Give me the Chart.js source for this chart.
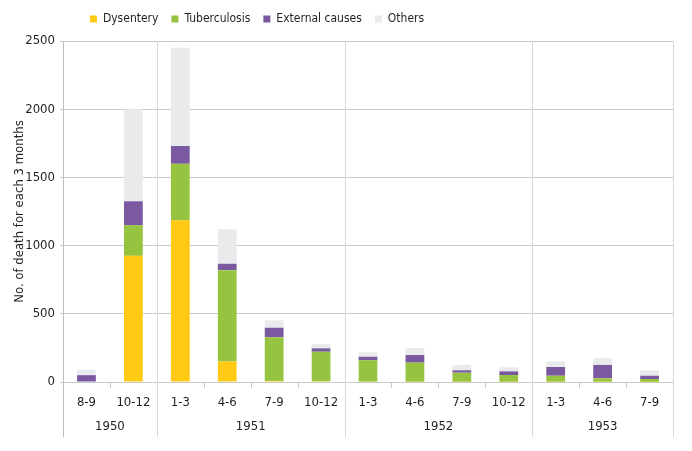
<!DOCTYPE html>
<html>
<head>
<meta charset="utf-8">
<script src="https://cdn.jsdelivr.net/npm/chart.js@4/dist/chart.umd.min.js"></script>
<style>
  html, body { margin: 0; padding: 0; background: #fff; }
  #wrap { width: 692px; height: 451px; }
</style>
</head>
<body>
<div id="wrap"><canvas id="grafico"></canvas></div>
<script>
// categorias (trimestres) e anos
const categorias = ['8-9', '10-12', '1-3', '4-6', '7-9', '10-12', '1-3', '4-6', '7-9', '10-12', '1-3', '4-6', '7-9'];
const anos       = ['1950', '1951', '1952', '1953'];
const anoSpans   = [2, 4, 4, 3];

// séries (nº de mortes por trimestre)
const disenteria  = [0, 925, 1185, 150, 8, 6, 3, 2, 2, 2, 2, 2, 1];
const tuberculose = [0, 225, 415, 670, 320, 216, 157, 140, 66, 49, 44, 25, 21];
const externas    = [50, 175, 130, 47, 70, 25, 25, 56, 18, 27, 64, 98, 24];
const outros      = [40, 675, 720, 253, 55, 30, 32, 50, 39, 30, 42, 49, 40];

const yTicks = [0, 500, 1000, 1500, 2000, 2500];

const FONTE = "'Liberation Sans Narrow', 'DejaVu Sans Condensed', 'Roboto', sans-serif";
const COR_TEXTO = '#231f20';
const COR_GRADE = '#c9c9c9';
const COR_ANO   = '#d9d9d9';

// linhas de separação dos anos, traços das categorias e rótulos dos anos
const eixoAnos = {
    id: 'eixoAnos',
    afterDraw(chart) {
        const { ctx, chartArea } = chart;
        const x = chart.scales.x;
        const n = categorias.length;
        const passo = (x.getPixelForValue(1) - x.getPixelForValue(0));
        const borda = i => x.getPixelForValue(0) - passo / 2 + i * passo;
        const fundo = 437;

        ctx.save();
        // traços curtos entre categorias
        ctx.strokeStyle = COR_GRADE;
        ctx.lineWidth = 1;
        for (let i = 1; i < n; i++) {
            const px = Math.round(borda(i)) + 0.5;
            ctx.beginPath();
            ctx.moveTo(px, chartArea.bottom);
            ctx.lineTo(px, chartArea.bottom + 6);
            ctx.stroke();
        }
        // linhas dos anos
        let idx = 0;
        const limites = [0];
        anoSpans.forEach(s => { idx += s; limites.push(idx); });
        limites.forEach((b, k) => {
            const px = Math.round(borda(b)) + 0.5;
            ctx.strokeStyle = (k === 0) ? '#bdbdbd' : COR_ANO;
            ctx.beginPath();
            ctx.moveTo(px, chartArea.top);
            ctx.lineTo(px, fundo);
            ctx.stroke();
        });
        // rótulos dos anos
        ctx.fillStyle = COR_TEXTO;
        ctx.font = '13px ' + FONTE;
        ctx.textAlign = 'center';
        ctx.textBaseline = 'middle';
        anos.forEach((a, k) => {
            const cx = (borda(limites[k]) + borda(limites[k + 1])) / 2;
            ctx.fillText(a, cx, 427);
        });
        ctx.restore();
    }
};

// legenda com altura fixa e deslocada para a esquerda
const ajusteLegenda = {
    id: 'ajusteLegenda',
    beforeInit(chart) {
        const fitOrig = chart.legend.fit;
        chart.legend.fit = function () {
            fitOrig.bind(chart.legend)();
            this.height = 41;
        };
    },
    afterLayout(chart) {
        const lg = chart.legend;
        const desloc = 257 - (lg.left + lg.right) / 2;
        lg.left += desloc;
        lg.right += desloc;
    }
};

function montarGrafico() {
    const canvas = document.getElementById('grafico');

    new Chart(canvas, {
        type: 'bar',
        data: {
            labels: categorias,
            datasets: [
                { label: 'Dysentery',       data: disenteria,  backgroundColor: '#ffc914' },
                { label: 'Tuberculosis',    data: tuberculose, backgroundColor: '#96c441' },
                { label: 'External causes', data: externas,    backgroundColor: '#7a59a1' },
                { label: 'Others',          data: outros,      backgroundColor: '#e8eaec' }
            ]
        },
        options: {
            responsive: true,
            maintainAspectRatio: false,
            animation: false,
            devicePixelRatio: 1,
            layout: { padding: { left: 0, right: 19, top: 0, bottom: 0 } },
            datasets: {
                bar: { barPercentage: 0.4, categoryPercentage: 1.0, borderWidth: 0 }
            },
            plugins: {
                legend: {
                    position: 'top',
                    align: 'center',
                    labels: {
                        color: COR_TEXTO,
                        font: { family: FONTE, size: 12 },
                        boxWidth: 7,
                        boxHeight: 7,
                        padding: 13
                    }
                },
                tooltip: { enabled: false }
            },
            scales: {
                x: {
                    stacked: true,
                    offset: true,
                    grid: { display: false },
                    border: { display: false },
                    ticks: {
                        color: COR_TEXTO,
                        font: { family: FONTE, size: 13 },
                        padding: 5,
                        maxRotation: 0,
                        autoSkip: false
                    },
                    afterFit: s => { s.height = 69; }
                },
                y: {
                    stacked: true,
                    min: 0,
                    max: 2500,
                    afterBuildTicks: s => { s.ticks = yTicks.map(v => ({ value: v })); },
                    grid: { color: COR_GRADE, tickLength: 3, drawTicks: true },
                    border: { display: false },
                    ticks: {
                        color: COR_TEXTO,
                        font: { family: FONTE, size: 13 },
                        padding: 5,
                        callback: v => String(v)
                    },
                    title: {
                        display: true,
                        text: 'No. of death for each 3 months',
                        color: COR_TEXTO,
                        font: { family: FONTE, size: 13 },
                        padding: { top: 12, bottom: 0 }
                    },
                    afterFit: s => { s.width = 63; }
                }
            }
        },
        plugins: [ajusteLegenda, eixoAnos]
    });
}

montarGrafico();
</script>
</body>
</html>
